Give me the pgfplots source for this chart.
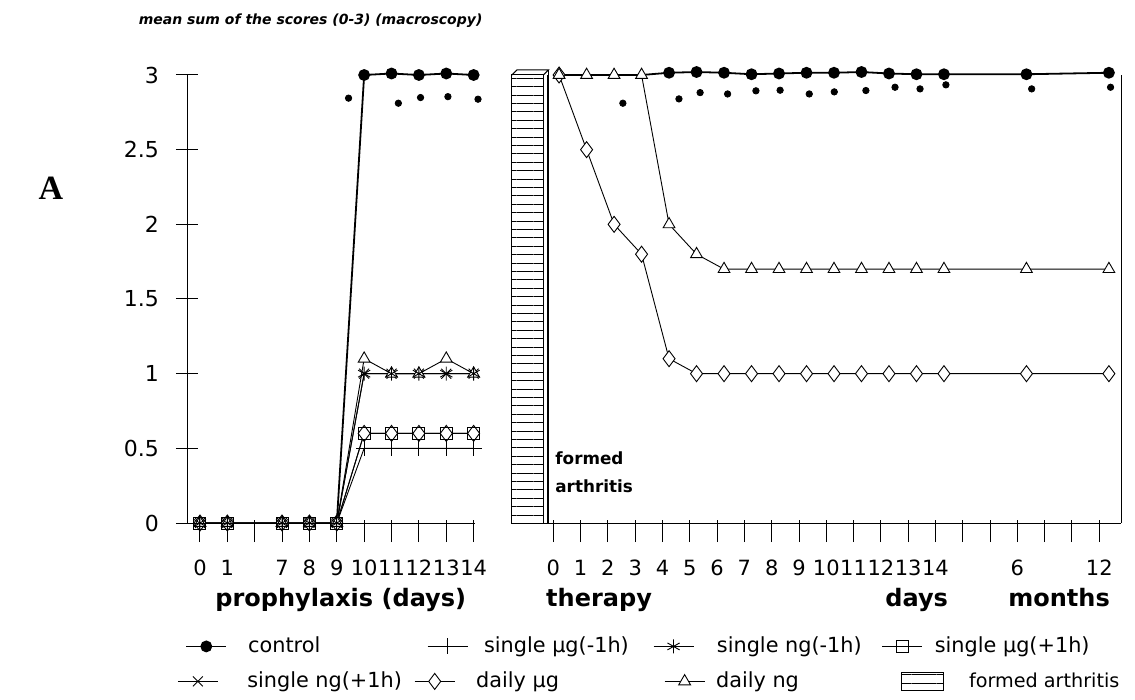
\documentclass[border=0pt]{standalone}
\usepackage{fontspec}
\setmainfont{DejaVu Sans}
\newfontfamily\serifA{Liberation Serif}
\usepackage{pgfplots}
\pgfplotsset{compat=1.18}
\usetikzlibrary{patterns.meta}
\pgfplotsset{
  legend image code/.code={\draw[mark repeat=2,mark phase=2,#1] plot coordinates {(0bp,0bp)(10bp,0bp)(20bp,0bp)};},
  arealeg/.style={legend image code/.code={\draw[##1] (0bp,-4.5bp) rectangle (21bp,4.5bp);}},
  every axis/.append style={
    scale only axis, height=224bp, ymin=0, ymax=3, clip=false,
    axis x line=bottom, axis y line=left,
    axis line style={-, line width=0.5bp, black},
    tick align=center, major tick length=11bp,
    xtick style={yshift=-4bp, line width=0.5bp, black},
    ytick style={line width=0.5bp, black},
    tick label style={font=\fontsize{10.5bp}{12bp}\selectfont},
    xticklabel style={yshift=-9.5bp},
    yticklabel style={xshift=-5bp, font=\fontsize{11bp}{12bp}\selectfont},
    legend columns=4, legend cell align=left,
    legend style={draw=none, fill=none, inner sep=0pt, column sep=0pt,
      nodes={inner sep=0pt}, font=\fontsize{10.4bp}{12bp}\selectfont},
  },
  ctrl/.style={black, line width=0.9bp, mark=*, mark size=2.5bp, mark options={solid, fill=black}},
  dots/.style={black, only marks, mark=*, mark size=1.6bp},
  sugm/.style={black, line width=0.45bp, mark=+, mark size=4bp},
  sngm/.style={black, line width=0.45bp, mark=asterisk, mark size=3.5bp},
  sugp/.style={black, line width=0.45bp, mark=square, mark size=3bp},
  sngp/.style={black, line width=0.45bp, mark=x, mark size=3.5bp},
  dug/.style={black, line width=0.45bp, mark=diamond*, mark size=4bp, mark options={fill=white}},
  dng/.style={black, line width=0.45bp, mark=triangle*, mark size=3.4bp, mark options={fill=white}},
}
\begin{document}
\begin{tikzpicture}
\useasboundingbox (-93.5bp,-88.5bp) rectangle (474bp,261.5bp);

% ---------------- left panel: prophylaxis ----------------
\begin{axis}[
  at={(0,0)}, anchor=south west, width=144bp,
  xmin=-0.473, xmax=10.05,
  xtick={0,...,10}, xticklabels={0,1,,7,8,9,10,11,12,13,14},
  ytick={0,0.5,1,1.5,2,2.5,3}, yticklabels={0,0.5,1,1.5,2,2.5,3},
  legend style={at={(axis description cs:-0.007,-0.2755)}, anchor=west},
]
\addplot[sngp, forget plot] coordinates {(0,0)(1,0)(3,0)(4,0)(5,0)(6,1.0)(7,1.0)(8,1.0)(9,1.0)(10,1.0)};
\addplot[dug, forget plot] coordinates {(0,0)(1,0)(3,0)(4,0)(5,0)(6,0.6)(7,0.6)(8,0.6)(9,0.6)(10,0.6)};
\addplot[dng, forget plot] coordinates {(0,0)(1,0)(3,0)(4,0)(5,0)(6,1.1)(7,1.0)(8,1.0)(9,1.1)(10,1.0)};
\addplot[dots, forget plot] coordinates {(5.43,2.845)(7.25,2.811)(8.06,2.849)(9.06,2.855)(10.16,2.838)};
\addplot[ctrl, mark indices={2,3,4,5,6}, forget plot] coordinates {(5,0)(6,3.0)(7,3.01)(8,3.0)(9,3.01)(10,3.0)};
\addlegendimage{ctrl}
\addlegendentry{\makebox[100bp][l]{\hspace{10.5bp}control}}
\addplot[sugm] coordinates {(0,0)(1,0)(3,0)(4,0)(5,0)(6,0.5)(7,0.5)(8,0.5)(9,0.5)(10,0.5)};
\addlegendentry{\makebox[92.5bp][l]{\hspace{8bp}single µg(-1h)}}
\addplot[sngm] coordinates {(0,0)(1,0)(3,0)(4,0)(5,0)(6,1.0)(7,1.0)(8,1.0)(9,1.0)(10,1.0)};
\addlegendentry{\makebox[94bp][l]{\hspace{11.5bp}single ng(-1h)}}
\addplot[sugp] coordinates {(0,0)(1,0)(3,0)(4,0)(5,0)(6,0.6)(7,0.6)(8,0.6)(9,0.6)(10,0.6)};
\addlegendentry{\makebox[90bp][l]{\hspace{6bp}single µg(+1h)}}
\end{axis}

% ---------------- right panel: therapy ----------------
\begin{axis}[
  at={(180bp,0)}, anchor=south west, width=287bp,
  xmin=-0.44, xmax=20.44,
  xtick={-0.21,0.783,1.776,2.769,3.762,4.755,5.748,6.741,7.734,8.727,9.72,10.713,11.706,12.699,13.692,14.685,15.678,16.671,17.664,18.657,19.65},
  xticklabels={0,1,2,3,4,5,6,7,8,9,10,11,12,13,14,,,6,,,12},
  ytick=\empty,
  legend style={at={(axis description cs:-0.6446,-0.3536)}, anchor=west},
]
\addplot[ctrl, mark indices={5,...,17}, forget plot] coordinates {(0,3.0)(1,3.0)(2,3.0)(3,3.0)(4,3.015)(5,3.02)(6,3.015)(7,3.005)(8,3.01)(9,3.015)(10,3.015)(11,3.02)(12,3.01)(13,3.005)(14,3.005)(17,3.005)(20,3.015)};
\addplot[dots, forget plot] coordinates {(2.32,2.811)(4.36,2.84)(5.13,2.882)(6.13,2.873)(7.16,2.894)(8.04,2.898)(9.1,2.873)(10.01,2.887)(11.16,2.896)(12.22,2.918)(13.13,2.907)(14.07,2.934)(17.19,2.907)(20.06,2.918)};
\addlegendimage{sngp}
\addlegendentry{\makebox[98bp][l]{\hspace{14.5bp}single ng(+1h)}}
\addplot[dug] coordinates {(0,3.0)(1,2.5)(2,2.0)(3,1.8)(4,1.1)(5,1.0)(6,1.0)(7,1.0)(8,1.0)(9,1.0)(10,1.0)(11,1.0)(12,1.0)(13,1.0)(14,1.0)(17,1.0)(20,1.0)};
\addlegendentry{\makebox[104.5bp][l]{\hspace{10.5bp}daily µg}}
\addplot[dng] coordinates {(0,3.0)(1,3.0)(2,3.0)(3,3.0)(4,2.0)(5,1.8)(6,1.7)(7,1.7)(8,1.7)(9,1.7)(10,1.7)(11,1.7)(12,1.7)(13,1.7)(14,1.7)(17,1.7)(20,1.7)};
\addlegendentry{\makebox[98bp][l]{\hspace{5.5bp}daily ng}}
\addplot[ybar, bar width=1.15, bar shift=0pt, draw=black, line width=0.5bp,
  pattern={Lines[angle=0,distance=4.2bp,line width=0.5bp]}, arealeg]
  coordinates {(-1.145,3)};
\addlegendentry{\makebox[80bp][l]{\hspace{12.5bp}\fontsize{9.6bp}{12bp}\selectfont formed arthritis}}
\draw[line width=0.5bp] (axis cs:-1.72,3) -- ++(2.5bp,2.5bp) -- ([xshift=2.5bp,yshift=2.5bp]axis cs:-0.57,3) -- (axis cs:-0.57,3);
\draw[line width=0.5bp] ([xshift=2.5bp,yshift=2.5bp]axis cs:-0.57,3) -- ([xshift=2.5bp]axis cs:-0.57,0) -- (axis cs:-0.57,0);
\draw[line width=0.5bp] (axis cs:20.44,0) -- (axis cs:20.44,3);
\end{axis}

% ---------------- texts ----------------
\node[anchor=base west, font=\bfseries\itshape\fontsize{7bp}{8bp}\selectfont, inner sep=0pt] at (-24.3bp,249bp) {mean sum of the scores (0-3) (macroscopy)};
\node[font=\serifA\bfseries\fontsize{17bp}{20bp}\selectfont, inner sep=0pt] at (-68bp,167.5bp) {A};
\node[anchor=base west, font=\bfseries\fontsize{12bp}{14bp}\selectfont, inner sep=0pt] at (14bp,-41.8bp) {prophylaxis (days)};
\node[anchor=base west, font=\bfseries\fontsize{12bp}{14bp}\selectfont, inner sep=0pt] at (179.4bp,-41.8bp) {therapy};
\node[anchor=base west, font=\bfseries\fontsize{12bp}{14bp}\selectfont, inner sep=0pt] at (349bp,-41.8bp) {days};
\node[anchor=base west, font=\bfseries\fontsize{12bp}{14bp}\selectfont, inner sep=0pt] at (410.5bp,-41.8bp) {months};
\node[anchor=west, font=\bfseries\fontsize{8.4bp}{10bp}\selectfont, inner sep=0pt] at (184bp,32.5bp) {formed};
\node[anchor=west, font=\bfseries\fontsize{8.4bp}{10bp}\selectfont, inner sep=0pt] at (184bp,18.5bp) {arthritis};
\end{tikzpicture}
\end{document}
